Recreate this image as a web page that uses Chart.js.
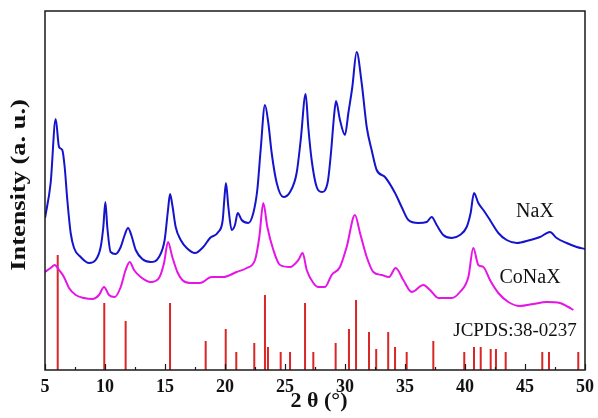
<!DOCTYPE html>
<html><head><meta charset="utf-8">
<script src="https://cdn.jsdelivr.net/npm/chart.js@4/dist/chart.umd.min.js"></script>
<style>html,body{margin:0;padding:0;background:#fff}#wrap{width:598px;height:418px}</style>
</head><body><div id="wrap"><canvas id="c" width="598" height="418"></canvas></div>
<script>
// ---- data (2θ in degrees, intensity in arbitrary units) ----
const xTickValues = [5, 10, 15, 20, 25, 30, 35, 40, 45, 50];

const naxTheta = [5.0,5.47,5.89,6.17,6.44,6.64,6.86,7.14,7.42,7.97,8.67,9.22,9.64,9.86,10.03,10.19,10.47,10.89,11.31,11.64,11.92,12.19,12.56,13.11,13.81,14.5,14.97,15.25,15.42,15.61,15.89,16.31,16.81,17.5,18.19,18.75,19.44,19.81,19.94,20.08,20.28,20.56,20.83,21.06,21.39,21.94,22.36,22.69,22.97,23.33,23.61,23.89,24.31,24.86,25.42,25.97,26.31,26.72,26.94,27.22,27.64,28.06,28.56,28.83,29.08,29.25,29.58,30.0,30.28,30.61,30.97,31.39,31.81,32.22,32.64,33.33,34.17,34.72,35.28,36.11,36.81,37.22,37.64,38.19,38.89,39.58,40.14,40.47,40.75,41.11,41.53,42.08,42.78,43.47,44.31,45.42,46.25,47.08,47.64,48.47,49.31,50.0];
const naxIntensity = [152,187,251,223,220,203,170,137,122,113,107,110,123,143,168,143,118,116,123,135,142,135,120,111,108,113,130,160,176,165,143,130,122,117,123,132,138,150,170,187,163,140,145,157,150,147,157,180,220,265,247,217,187,173,178,197,230,276,243,210,183,178,188,217,253,269,250,235,257,283,318,287,243,220,200,193,177,163,150,147,148,153,145,135,132,135,143,157,177,167,160,150,137,130,127,130,133,138,132,127,123,121];

const conaxTheta = [5.0,5.47,5.81,6.17,6.58,7.0,7.56,8.25,8.94,9.5,9.92,10.33,10.81,11.31,11.72,12.06,12.42,12.97,13.81,14.5,14.92,15.25,15.61,16.03,16.44,17.08,17.92,18.89,19.86,20.97,21.81,22.5,22.86,23.19,23.53,24.03,24.58,25.42,26.11,26.47,26.81,27.36,27.78,28.33,28.89,29.58,30.14,30.83,31.25,31.81,32.36,33.06,33.67,34.22,34.86,35.56,36.53,37.08,37.78,38.89,39.58,40.28,40.69,41.11,41.53,42.08,42.78,43.61,44.58,45.69,46.81,47.92,48.61,49.03];
const conaxIntensity = [98,102,105,100,93,82,75,72,71,75,83,75,73,83,100,108,100,93,88,92,107,128,113,98,90,87,87,93,93,98,102,110,133,167,143,120,105,103,110,117,100,87,83,83,95,103,123,155,137,113,98,95,93,102,90,78,85,80,72,72,78,93,122,105,103,90,77,68,64,66,68,67,63,60];

const jcpdsTheta = [6.06,9.94,11.72,15.42,18.39,20.06,20.94,22.44,23.33,23.58,24.64,25.42,26.67,27.36,29.22,30.33,30.92,32.0,32.6,33.6,34.17,35.14,37.36,39.94,40.75,41.31,42.14,42.58,43.39,46.44,47.0,49.44];
const jcpdsIntensity = [115,67,49,67,29,41,18,27,75,23,18,18,67,18,27,41,70,38,21,38,23,18,29,18,23,23,21,21,18,18,18,18];

const seriesLabels = ["NaX", "CoNaX", "JCPDS:38-0237"];

// ---- build datasets ----
const toPts = (xs, ys) => xs.map((x, i) => ({x: x, y: ys[i]}));
const stickPts = [];
jcpdsTheta.forEach((t, i) => {
  stickPts.push({x: t, y: 0});
  stickPts.push({x: t, y: jcpdsIntensity[i]});
  stickPts.push({x: t, y: null});
});

const SERIF = "'Liberation Serif', 'Times New Roman', serif";

const decor = {
  id: 'decor',
  afterDraw(chart) {
    const ctx = chart.ctx, a = chart.chartArea;
    const xs = chart.scales.x, ys = chart.scales.y;
    ctx.save();
    // frame
    ctx.strokeStyle = '#1a1a1a';
    ctx.lineWidth = 1.5;
    ctx.strokeRect(a.left, a.top, a.right - a.left, a.bottom - a.top);
    // inward ticks (major every 5, minor every 2.5)
    ctx.lineWidth = 1.2;
    for (let v = 5; v <= 50.001; v += 2.5) {
      const px = Math.round(xs.getPixelForValue(v)) + 0.5;
      const len = (Math.abs(v % 5) < 1e-6) ? 6 : 3;
      ctx.beginPath();
      ctx.moveTo(px, a.bottom);
      ctx.lineTo(px, a.bottom - len);
      ctx.stroke();
    }
    // series labels
    ctx.fillStyle = '#111';
    ctx.font = '20px ' + SERIF;
    ctx.textAlign = 'center';
    ctx.textBaseline = 'middle';
    ctx.fillText(seriesLabels[0], xs.getPixelForValue(45.83), ys.getPixelForValue(158));
    ctx.fillText(seriesLabels[1], xs.getPixelForValue(45.42), ys.getPixelForValue(92));
    ctx.font = '19px ' + SERIF;
    ctx.fillText(seriesLabels[2], xs.getPixelForValue(44.17), ys.getPixelForValue(39));
    // x axis title
    ctx.font = 'bold 22px ' + SERIF;
    ctx.fillText('2 θ (°)', (a.left + a.right) / 2 + 4, a.bottom + 31);
    // y axis title
    ctx.translate(19, 185);
    ctx.rotate(-Math.PI / 2);
    ctx.scale(1.2, 1);
    ctx.font = 'bold 22px ' + SERIF;
    ctx.fillText('Intensity (a. u.)', 0, 0);
    ctx.restore();
  }
};

new Chart(document.getElementById('c'), {
  type: 'line',
  data: {
    datasets: [
      {label: 'NaX', data: toPts(naxTheta, naxIntensity), borderColor: '#1414cc', borderWidth: 2, pointRadius: 0, cubicInterpolationMode: 'monotone', fill: false},
      {label: 'CoNaX', data: toPts(conaxTheta, conaxIntensity), borderColor: '#e614e6', borderWidth: 2, pointRadius: 0, cubicInterpolationMode: 'monotone', fill: false},
      {label: 'JCPDS', data: stickPts, borderColor: '#d92626', borderWidth: 2, pointRadius: 0, tension: 0, spanGaps: false, fill: false}
    ]
  },
  options: {
    responsive: false,
    animation: false,
    devicePixelRatio: 1,
    layout: {padding: {left: 45, top: 11, right: 13, bottom: 0}},
    plugins: {legend: {display: false}, tooltip: {enabled: false}},
    scales: {
      x: {
        type: 'linear', min: 5, max: 50,
        afterBuildTicks: s => { s.ticks = xTickValues.map(v => ({value: v})); },
        afterFit: s => { s.height = 48; s.paddingLeft = 0; s.paddingRight = 0; },
        grid: {display: false, drawTicks: false},
        border: {display: false},
        ticks: {color: '#111', padding: 7, maxRotation: 0, font: {family: SERIF, size: 18, weight: 'bold'}}
      },
      y: {display: false, min: 0, max: 359}
    }
  },
  plugins: [decor]
});
</script>
</body></html>
